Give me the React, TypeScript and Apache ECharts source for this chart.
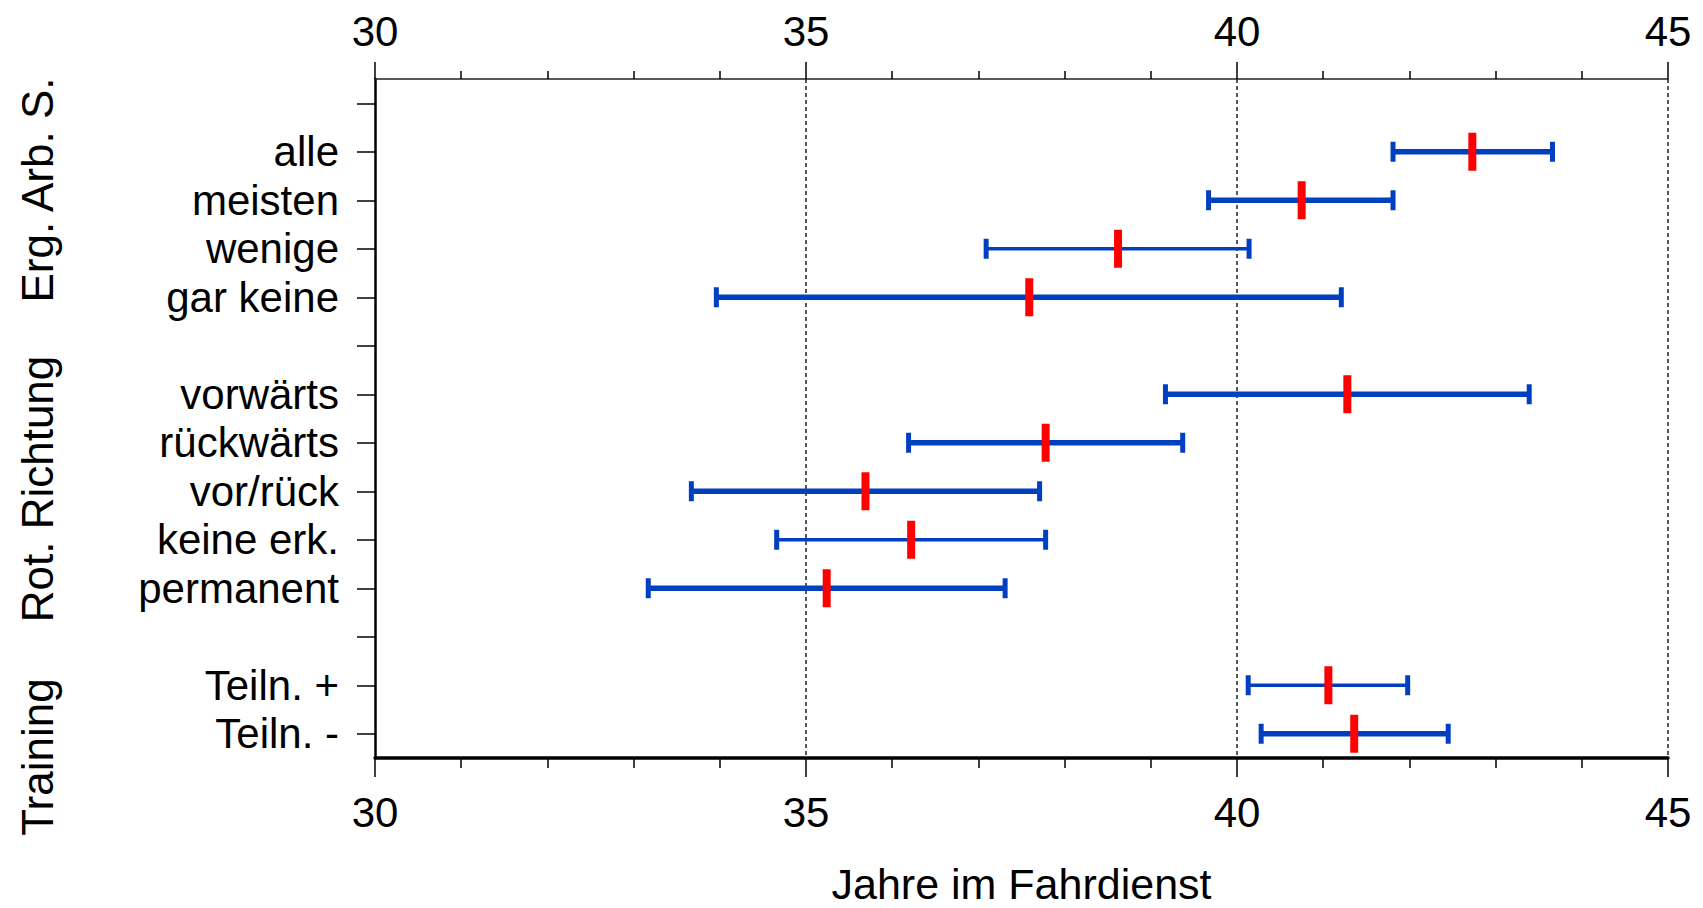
import React, { useEffect, useRef } from "react";
import * as echarts from "echarts";

const groupNames = ["Erg. Arb. S.", "Rot. Richtung", "Training"];
const categories = [
  " ", "alle", "meisten", "wenige", "gar keine",
  "  ", "vorwärts", "rückwärts", "vor/rück", "keine erk.", "permanent",
  "   ", "Teiln. +", "Teiln. -",
];
const lowerBound = [null, 41.81, 39.67, 37.09, 33.96, null, 39.17, 36.19, 33.67, 34.66, 33.17, null, 40.13, 40.28];
const upperBound = [null, 43.66, 41.81, 40.14, 41.21, null, 43.39, 39.37, 37.71, 37.78, 37.31, null, 41.98, 42.45];
const means = [null, 42.73, 40.75, 38.62, 37.59, null, 41.28, 37.78, 35.69, 36.22, 35.24, null, 41.06, 41.36];
const xTicks = [30, 35, 40, 45];
const xName = "Jahre im Fahrdienst";

const thinBars = new Set(["wenige", "keine erk.", "Teiln. +"]);
const FONT = "'Liberation Sans', Arial, sans-serif";
const BLUE = "#0040c0";
const RED = "#ff0000";

export default function App() {
  const ref = useRef<HTMLDivElement>(null);
  useEffect(() => {
    if (!ref.current) return;
    const chart = echarts.init(ref.current, null, { renderer: "svg" });
    const data: any[] = [];
    categories.forEach((c, i) => {
      if (means[i] != null) data.push([i, lowerBound[i], upperBound[i], means[i]]);
    });
    const xMin = xTicks[0];
    const xMax = xTicks[xTicks.length - 1];
    const xInt = xTicks[1] - xTicks[0];
    const groupY = [190, 489, 757];
    const option: any = {
      animation: false,
      backgroundColor: "#fff",
      grid: { left: 375, right: 35, top: 79, bottom: 150, containLabel: false, outerBoundsMode: "none" },
      xAxis: [
        {
          type: "value", position: "bottom", min: xMin, max: xMax, interval: xInt,
          name: xName, nameLocation: "middle", nameGap: 104,
          nameTextStyle: { fontSize: 43, color: "#000", fontFamily: FONT },
          axisLine: { show: true, lineStyle: { color: "#000", width: 3.5 } },
          axisTick: { show: true, inside: false, length: 19, lineStyle: { color: "#000", width: 1.5 } },
          minorTick: { show: true, splitNumber: 5, length: 10, lineStyle: { color: "#000", width: 1.5 } },
          axisLabel: { fontSize: 42, color: "#000", fontFamily: FONT, margin: 33 },
          splitLine: {
            show: true, showMinLine: false,
            lineStyle: { color: "#222", width: 1.5, type: [4, 3] },
          },
        },
        {
          type: "value", position: "top", min: xMin, max: xMax, interval: xInt,
          axisLine: { show: true, lineStyle: { color: "#222", width: 1.5 } },
          axisTick: { show: true, inside: false, length: 17, lineStyle: { color: "#000", width: 1.5 } },
          minorTick: { show: true, splitNumber: 5, length: 8, lineStyle: { color: "#000", width: 1.5 } },
          axisLabel: { fontSize: 42, color: "#000", fontFamily: FONT, margin: 27 },
          splitLine: { show: false },
        },
      ],
      yAxis: {
        type: "category", inverse: true, data: categories,
        axisLine: { show: true, lineStyle: { color: "#000", width: 2.5 } },
        axisTick: { show: true, alignWithLabel: true, inside: false, length: 18, lineStyle: { color: "#000", width: 1.5 } },
        axisLabel: { fontSize: 42, color: "#000", fontFamily: FONT, margin: 36, interval: 0 },
        splitLine: { show: false },
      },
      graphic: groupNames.map((g, i) => ({
        type: "text", x: 37, y: groupY[i], rotation: Math.PI / 2,
        style: { text: g, fontSize: 44, fontFamily: FONT, fill: "#000", align: "center", verticalAlign: "middle" },
      })),
      series: [
        {
          type: "custom",
          xAxisIndex: 0,
          yAxisIndex: 0,
          encode: { x: [1, 2, 3], y: 0 },
          data,
          renderItem: (params: any, api: any) => {
            const yi = api.value(0);
            const lo = api.coord([api.value(1), yi]);
            const hi = api.coord([api.value(2), yi]);
            const mid = api.coord([api.value(3), yi]);
            const w = thinBars.has(categories[yi]) ? 3.5 : 5.5;
            return {
              type: "group",
              children: [
                { type: "line", shape: { x1: lo[0], y1: lo[1], x2: hi[0], y2: hi[1] }, style: { stroke: BLUE, lineWidth: w } },
                { type: "line", shape: { x1: lo[0], y1: lo[1] - 10, x2: lo[0], y2: lo[1] + 10 }, style: { stroke: BLUE, lineWidth: 5 } },
                { type: "line", shape: { x1: hi[0], y1: hi[1] - 10, x2: hi[0], y2: hi[1] + 10 }, style: { stroke: BLUE, lineWidth: 5 } },
                { type: "rect", shape: { x: mid[0] - 4, y: mid[1] - 19, width: 8, height: 38 }, style: { fill: RED } },
              ],
            };
          },
        },
      ],
    };
    chart.setOption(option);
    return () => chart.dispose();
  }, []);
  return (
    <div
      ref={ref}
      style={{ position: "fixed", left: 0, top: 0, width: 1703, height: 908, background: "#fff" }}
    />
  );
}
